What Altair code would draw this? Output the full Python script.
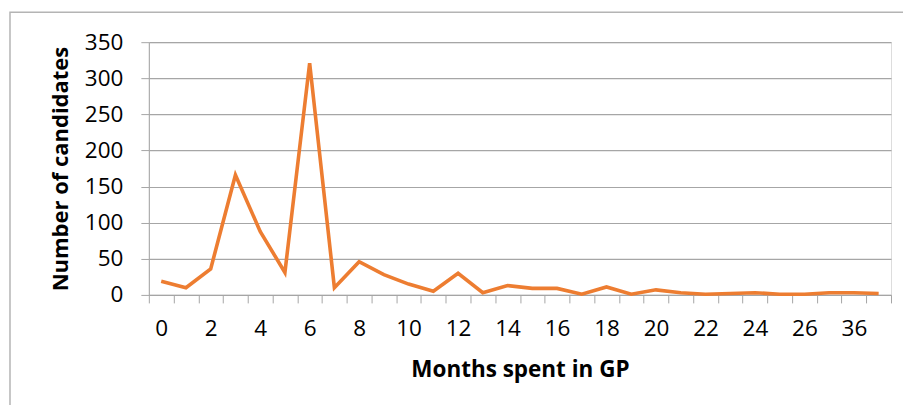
import altair as alt
import pandas as pd

months = ["0", "1", "2", "3", "4", "5", "6", "7", "8", "9", "10", "11", "12", "13",
          "14", "15", "16", "17", "18", "19", "20", "21", "22", "23", "24", "25",
          "26", "30", "36", "48"]
candidates = [19, 10, 36, 166, 88, 31, 321, 10, 46, 28, 15, 5, 30, 3,
              13, 9, 9, 1, 11, 1, 7, 3, 1, 2, 3, 1, 1, 3, 3, 2]

n = len(months)
df = pd.DataFrame({
    "month": months,
    "pos": [i + 0.5 for i in range(n)],
    "count": candidates,
})

W = 743
H = 253
band = W / n
FONT = "Open Sans"
GRID = "#a6a6a6"

label_arr = "[" + ",".join("'" + (m if i % 2 == 0 else "") + "'" for i, m in enumerate(months)) + ",'']"

line = alt.Chart(df).mark_line(color="#ED7D31", strokeWidth=3.6).encode(
    x=alt.X("pos:Q",
            scale=alt.Scale(domain=[0, n], nice=False, zero=False),
            axis=alt.Axis(values=list(range(n + 1)),
                          labelExpr=label_arr + "[datum.value]",
                          labelOffset=band / 2,
                          labelOverlap=False,
                          labelFlush=False,
                          grid=False,
                          domainColor=GRID, tickColor=GRID, tickSize=8,
                          labelPadding=15, labelFontSize=22.5, labelColor="#000",
                          labelFont=FONT,
                          title="Months spent in GP", titleFont=FONT,
                          titleFontSize=22.5, titleFontWeight="bold",
                          titleColor="#000", titlePadding=18)),
    y=alt.Y("count:Q",
            scale=alt.Scale(domain=[0, 350], nice=False),
            axis=alt.Axis(values=list(range(0, 351, 50)),
                          grid=True, gridColor=GRID, gridWidth=1.2,
                          domainColor=GRID, tickColor=GRID, tickSize=8,
                          labelPadding=18, labelFontSize=22.5, labelColor="#000",
                          labelFont=FONT,
                          title="Number of candidates", titleFont=FONT,
                          titleFontSize=22, titleFontWeight="bold",
                          titleColor="#000", titlePadding=12)),
)

frame = alt.Chart(pd.DataFrame({"a": [0]})).mark_rect(
    fill=None, stroke="#b4b4b4", strokeWidth=1.5
).encode(
    x=alt.value(-139), x2=alt.value(W + 60),
    y=alt.value(-30), y2=alt.value(H + 150),
)

chart = alt.layer(frame, line).properties(
    width=W, height=H,
    autosize=alt.AutoSizeParams(type="none"),
    padding={"left": 141, "top": 34, "right": 12, "bottom": 110},
).configure_view(stroke=None).configure(background="white")

chart.save("out.html", embed_options={"renderer": "svg", "actions": False})
